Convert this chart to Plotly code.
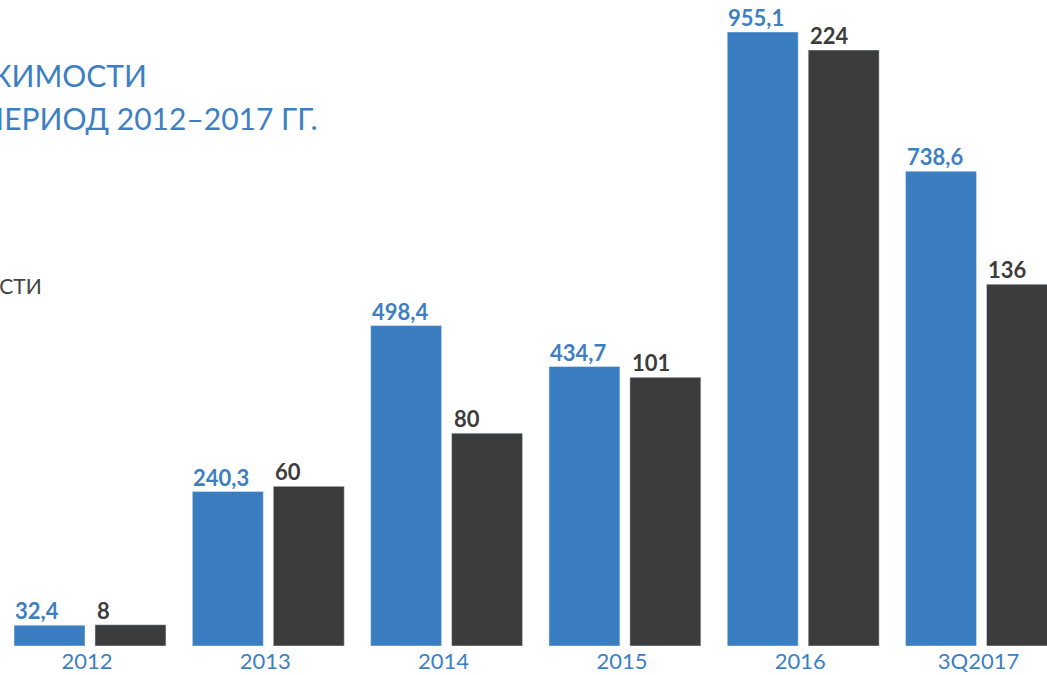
import plotly.graph_objects as go

categories = ["2012", "2013", "2014", "2015", "2016", "3Q2017"]
volume = [32.4, 240.3, 498.4, 434.7, 955.1, 738.6]
deals = [8, 60, 80, 101, 224, 136]

BLUE = "#3a7ec1"
DARK = "#3c3c3c"
TEXT_BLUE = "#3d7fc2"

W, H = 1047, 675
PLOT_H = 646
UNIT_PX = 178.3          # pixels per category
BAR_W = 0.398
BLUE_OFF = -0.426
DARK_OFF = 0.028

fig = go.Figure()
fig.add_trace(go.Bar(x=categories, y=volume, marker_color=BLUE, width=BAR_W,
                     offset=BLUE_OFF, yaxis="y", showlegend=False))
fig.add_trace(go.Bar(x=categories, y=deals, marker_color=DARK, width=BAR_W,
                     offset=DARK_OFF, yaxis="y2", showlegend=False))

annotations = []
for i, (v, d) in enumerate(zip(volume, deals)):
    annotations.append(dict(
        x=i, y=v, xref="x", yref="y", text=f"{v:.1f}".replace(".", ","),
        xanchor="left", yanchor="bottom", showarrow=False,
        xshift=BLUE_OFF * UNIT_PX - 1, yshift=-1,
        font=dict(family="Lato", size=22, color=TEXT_BLUE, weight="bold")))
    annotations.append(dict(
        x=i, y=d, xref="x", yref="y2", text=f"{d}",
        xanchor="left", yanchor="bottom", showarrow=False,
        xshift=DARK_OFF * UNIT_PX, yshift=-1,
        font=dict(family="Lato", size=22, color=DARK, weight="bold")))

annotations.append(dict(
    x=149 / W, y=(PLOT_H - 75) / PLOT_H, xref="paper", yref="paper",
    text="ОБЪЕМ ИНВЕСТИЦИЙ В ДЕВЕЛОПМЕНТ НЕДВИЖИМОСТИ", xanchor="right", yanchor="middle",
    showarrow=False, font=dict(family="Lato", size=30, color=TEXT_BLUE)))
annotations.append(dict(
    x=319 / W, y=(PLOT_H - 118) / PLOT_H, xref="paper", yref="paper",
    text="ЗА ПЕРИОД 2012–2017 ГГ.", xanchor="right", yanchor="middle",
    showarrow=False, font=dict(family="Lato", size=30, color=TEXT_BLUE)))
annotations.append(dict(
    x=44 / W, y=(PLOT_H - 285) / PLOT_H, xref="paper", yref="paper",
    text="КОЛИЧЕСТВО ОБЪЕКТОВ НЕДВИЖИМОСТИ", xanchor="right", yanchor="middle",
    showarrow=False, font=dict(family="Lato", size=21, color="#444444")))

left_edge = -90 / UNIT_PX
right_edge = (W - 90) / UNIT_PX

fig.update_layout(
    width=W, height=H,
    margin=dict(l=0, r=0, t=0, b=H - PLOT_H),
    paper_bgcolor="white", plot_bgcolor="white",
    xaxis=dict(type="category", range=[left_edge, right_edge], showgrid=False,
               zeroline=False, showline=False, ticks="", ticklabelshift=-3,
               tickfont=dict(family="Lato", size=22, color=TEXT_BLUE)),
    yaxis=dict(range=[0, PLOT_H / 0.6429], visible=False, showgrid=False, zeroline=False),
    yaxis2=dict(range=[0, PLOT_H / 2.6607], visible=False, overlaying="y",
                side="right", showgrid=False, zeroline=False),
    annotations=annotations,
    barmode="overlay",
)

fig.write_html("out.html", config={"displayModeBar": False},
               post_script="document.body.style.margin='0';document.body.style.overflow='hidden';")
